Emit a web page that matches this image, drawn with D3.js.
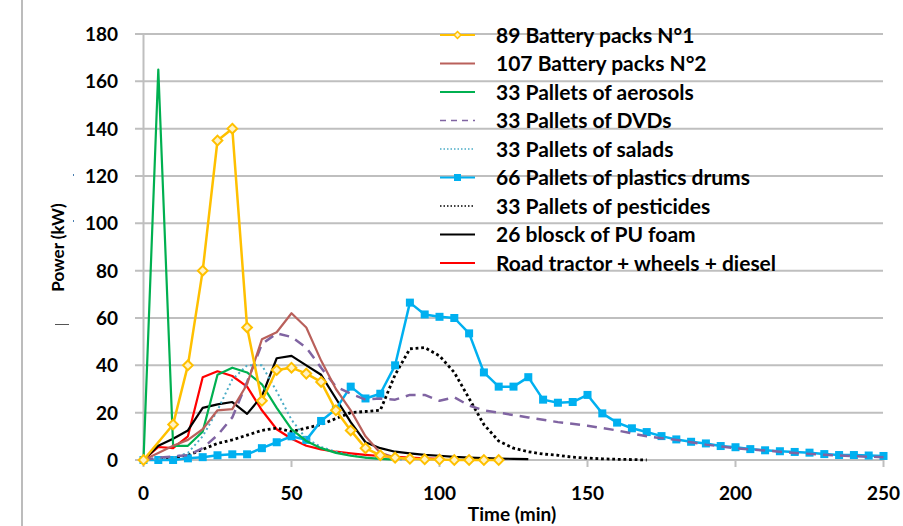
<!DOCTYPE html>
<html>
<head>
<meta charset="utf-8">
<script src="https://cdn.jsdelivr.net/npm/d3@7"></script>
<style>
  body { margin: 0; background: #fff; }
  text { font-family: Lato, "Open Sans", sans-serif; font-weight: bold; fill: #000; }
</style>
</head>
<body>
<div id="chart"></div>
<script>
// time steps (min)
const batt1T = [0, 10, 15, 20, 25, 30, 35, 40, 45, 50, 55, 60, 65, 70, 75, 80, 85, 90, 95, 100, 105, 110, 115, 120];
const batt1V = [0, 15, 40, 80, 135, 140, 56, 25, 38, 39, 36.5, 33, 21, 12.5, 5, 2, 1, 0.5, 0.3, 0.2, 0, 0, 0, 0];

const batt2T = [0, 5, 10, 15, 20, 25, 30, 35, 40, 45, 50, 55, 60, 65, 70, 75, 80, 85, 90];
const batt2V = [0, 3, 6, 8.5, 13, 21, 21.5, 32, 51, 54, 62, 56, 42, 30, 21, 10, 3, 1, 0.5];

const aeroT = [0, 5, 10, 15, 20, 25, 30, 35, 40, 45, 50, 55, 60, 65, 70, 75, 80, 85];
const aeroV = [0, 165, 6, 6, 12, 36, 39, 37, 32, 22, 13, 8, 5, 3, 1.8, 1, 0.5, 0.2];

const dvdT = [0, 5, 10, 15, 20, 25, 30, 35, 40, 45, 50, 55, 60, 65, 70, 75, 80, 85, 90, 95, 100, 105, 110, 115, 120, 130, 140, 150, 160, 170, 180, 190, 200, 210, 220, 230, 240, 250];
const dvdV = [0, 1, 1.5, 2, 5, 10.5, 18, 33, 49, 53.5, 52, 47.5, 39, 31, 28, 25.5, 26, 25.5, 27.5, 27.5, 25, 26.5, 23, 21, 20, 18, 16, 14.5, 12.5, 10, 8.5, 6.5, 5, 4, 3, 2.2, 1.6, 1.2];

const saladT = [0, 5, 10, 15, 20, 25, 30, 35, 40, 45, 50, 55, 60, 65, 70, 75, 80, 85, 90];
const saladV = [0, 0.5, 1, 3, 10, 21, 34, 40, 40, 29, 17, 9, 5.5, 3.5, 2, 1, 0.6, 0.3, 0];

const drumT = [0, 5, 10, 15, 20, 25, 30, 35, 40, 45, 50, 55, 60, 65, 70, 75, 80, 85, 90, 95, 100, 105, 110, 115, 120, 125, 130, 135, 140, 145, 150, 155, 160, 165, 170, 175, 180, 185, 190, 195, 200, 205, 210, 215, 220, 225, 230, 235, 240, 245, 250];
const drumV = [0, 0, 0, 0.7, 1.2, 2, 2.4, 2.4, 5, 7.5, 10, 8.5, 16.5, 21.5, 31, 26, 28, 40, 66.5, 61.5, 60.5, 60, 53.5, 37, 31, 31, 35, 25.5, 24.2, 24.5, 27.5, 19.7, 15.8, 13.4, 11.8, 10.1, 8.7, 7.7, 7, 5.9, 5.4, 4.6, 4.1, 3.7, 3.4, 3.1, 2.5, 2.1, 2.1, 1.9, 1.7];

const pestT = [0, 5, 10, 15, 20, 25, 30, 35, 40, 45, 50, 55, 60, 65, 70, 75, 80, 85, 90, 95, 100, 105, 110, 115, 120, 125, 130, 135, 140, 145, 150, 155, 160, 165, 170];
const pestV = [0, 0.5, 1, 2, 4.5, 7, 8.5, 10.5, 12.5, 13.5, 12, 13.5, 15, 17.5, 20, 20.5, 21, 36, 47, 47.5, 44, 37, 26, 15, 8, 5, 3.5, 2.5, 2, 1.2, 0.8, 0.5, 0.3, 0.2, 0];

const foamT = [0, 5, 10, 15, 20, 25, 30, 35, 40, 45, 50, 55, 60, 65, 70, 75, 80, 85, 90, 95, 100, 105, 110, 115, 120, 125, 130];
const foamV = [0, 6, 9, 12.5, 22, 23.5, 24.5, 19.5, 27, 43, 44, 40, 36, 26, 16, 7.5, 5, 3.5, 2.8, 2.2, 1.8, 1.3, 1, 0.8, 0.6, 0.5, 0.4];

const tractorT = [0, 5, 10, 15, 20, 25, 30, 35, 40, 45, 50, 55, 60, 65, 70, 75, 80, 85, 90, 95, 100];
const tractorV = [0, 5.5, 5, 10, 35, 37.5, 35.5, 31, 21, 13, 9, 6, 4.5, 3.5, 2.8, 2.2, 1.7, 1.3, 1, 0.7, 0.5];

const seriesNames = ["89 Battery packs N°1", "107 Battery packs N°2", "33 Pallets of aerosols", "33 Pallets of DVDs",
  "33 Pallets of salads", "66 Pallets of plastics drums", "33 Pallets of pesticides", "26 blosck of PU foam",
  "Road tractor + wheels + diesel"];
const xTicks = [0, 50, 100, 150, 200, 250];
const yTicks = [0, 20, 40, 60, 80, 100, 120, 140, 160, 180];

const series = [
  {name: seriesNames[0], t: batt1T, v: batt1V, color: "#FFC000", width: 2.5, marker: "diamond"},
  {name: seriesNames[1], t: batt2T, v: batt2V, color: "#B9605B", width: 2.2},
  {name: seriesNames[2], t: aeroT, v: aeroV, color: "#00B050", width: 2.2},
  {name: seriesNames[3], t: dvdT, v: dvdV, color: "#8064A2", width: 2.5, dash: "10,7"},
  {name: seriesNames[4], t: saladT, v: saladV, color: "#4BACC6", width: 2, dash: "2,3"},
  {name: seriesNames[5], t: drumT, v: drumV, color: "#00B0F0", width: 2.5, marker: "square"},
  {name: seriesNames[6], t: pestT, v: pestV, color: "#000000", width: 2.8, dash: "2.8,2.8"},
  {name: seriesNames[7], t: foamT, v: foamV, color: "#000000", width: 2.2},
  {name: seriesNames[8], t: tractorT, v: tractorV, color: "#FF0000", width: 2.2}
];

const W = 903, H = 526;
const svg = d3.select("#chart").append("svg")
  .attr("width", W).attr("height", H);

// outer frame edge on the left, and the little stray marks
svg.append("line").attr("x1", 22).attr("x2", 22).attr("y1", 0).attr("y2", H)
  .attr("stroke", "#a6a6a6").attr("stroke-width", 1.5);
svg.append("line").attr("x1", 55).attr("x2", 69).attr("y1", 324.5).attr("y2", 324.5)
  .attr("stroke", "#555").attr("stroke-width", 1);
svg.selectAll(".speck").data([174, 220]).join("rect").attr("class", "speck")
  .attr("x", 73).attr("y", d => d).attr("width", 1).attr("height", 2).attr("fill", "#4a7fb0");

const x = d3.scaleLinear().domain([0, 250]).range([143.5, 883.5]);
const y = d3.scaleLinear().domain([0, 180]).range([460, 34]);

// grid
svg.append("g").selectAll("line").data(yTicks.slice(1)).join("line")
  .attr("x1", 135).attr("x2", 883)
  .attr("y1", d => y(d)).attr("y2", d => y(d))
  .attr("stroke", "#bfbfbf").attr("stroke-width", 2);

// axes
svg.append("line").attr("x1", x(0)).attr("x2", x(0)).attr("y1", y(180)).attr("y2", y(0))
  .attr("stroke", "#bfbfbf").attr("stroke-width", 2);
svg.append("line").attr("x1", 135).attr("x2", x(250)).attr("y1", y(0)).attr("y2", y(0))
  .attr("stroke", "#bfbfbf").attr("stroke-width", 2);
svg.append("g").selectAll("line").data(xTicks).join("line")
  .attr("x1", d => x(d)).attr("x2", d => x(d))
  .attr("y1", y(0)).attr("y2", y(0) + 7)
  .attr("stroke", "#bfbfbf").attr("stroke-width", 2);

svg.append("g").selectAll("text").data(yTicks).join("text")
  .attr("x", 118).attr("y", d => y(d)).attr("dy", "0.36em")
  .attr("text-anchor", "end").style("font-size", "19px")
  .text(d => d);
svg.append("g").selectAll("text").data(xTicks).join("text")
  .attr("x", d => x(d)).attr("y", 493).attr("dy", "0.36em")
  .attr("text-anchor", "middle").style("font-size", "19px")
  .text(d => d);

svg.append("text").attr("x", 512).attr("y", 514).attr("dy", "0.36em")
  .attr("text-anchor", "middle").style("font-size", "19px").text("Time (min)");
svg.append("text").attr("transform", "translate(58,247.5) rotate(-90)").attr("dy", "0.36em")
  .attr("text-anchor", "middle").style("font-size", "17px").text("Power (kW)");

// lines
const line = d3.line().x(d => x(d[0])).y(d => y(d[1]));
const plot = svg.append("g");
series.slice().reverse().forEach(s => {
  const pts = s.t.map((t, i) => [t, s.v[i]]);
  plot.append("path")
    .attr("fill", "none")
    .attr("stroke", s.color)
    .attr("stroke-width", s.width)
    .attr("stroke-dasharray", s.dash || null)
    .attr("stroke-linejoin", "round")
    .attr("d", line(pts));
  if (s.marker === "diamond") {
    plot.append("g").selectAll("path").data(pts).join("path")
      .attr("d", d3.symbol(d3.symbolDiamond2, 60))
      .attr("transform", d => `translate(${x(d[0])},${y(d[1])})`)
      .attr("fill", "#fff2c4").attr("stroke", s.color).attr("stroke-width", 2);
  } else if (s.marker === "square") {
    plot.append("g").selectAll("rect").data(pts).join("rect")
      .attr("x", d => x(d[0]) - 4).attr("y", d => y(d[1]) - 4)
      .attr("width", 8).attr("height", 8)
      .attr("fill", s.color);
  }
});

// legend
const legend = svg.selectAll(".legend").data(series).join("g")
  .attr("class", "legend")
  .attr("transform", (d, i) => `translate(440,${35 + i * 28.5})`);
legend.append("line")
  .attr("x1", 0).attr("x2", 35)
  .attr("stroke", d => d.color)
  .attr("stroke-width", d => d.dash ? 1.6 : 1.8)
  .attr("stroke-dasharray", d => d.dash ? (d.name.includes("DVD") ? "6,5" : "1.5,2") : null);
legend.filter(d => d.marker === "diamond").append("path")
  .attr("d", d3.symbol(d3.symbolDiamond2, 30))
  .attr("transform", "translate(17.5,0)")
  .attr("fill", "#fff2c4").attr("stroke", "#FFC000").attr("stroke-width", 1.5);
legend.filter(d => d.marker === "square").append("rect")
  .attr("x", 14).attr("y", -3.5).attr("width", 7).attr("height", 7)
  .attr("fill", "#00B0F0");
legend.append("text")
  .attr("x", 56).attr("dy", "0.36em")
  .style("font-size", "21px")
  .text(d => d.name);
</script>
</body>
</html>
